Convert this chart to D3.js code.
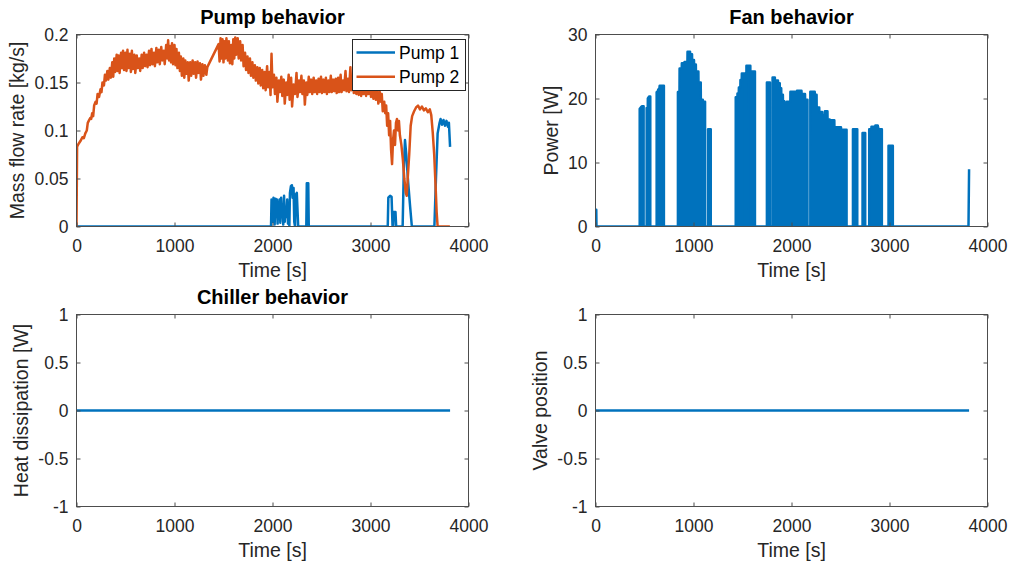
<!DOCTYPE html>
<html>
<head>
<meta charset="utf-8">
<script src="https://cdn.jsdelivr.net/npm/d3@7"></script>
<style>
  html, body { margin: 0; padding: 0; background: #ffffff; }
  svg { display: block; font-family: "Liberation Sans", Arial, Helvetica, sans-serif; }
</style>
</head>
<body>
<svg id="fig" width="1012" height="566"></svg>
<script>
// ---- tick values ----
const timeTicks = [0, 1000, 2000, 3000, 4000];
const pumpTicks = [0, 0.05, 0.1, 0.15, 0.2];
const fanTicks = [0, 10, 20, 30];
const unitTicks = [-1, -0.5, 0, 0.5, 1];

// ---- series: [time s, value] ----
const pump1Flow = [
  [0,0],[1985,0],[1990,0.028],[2000,0.027],[2005,0.005],[2010,0.03],[2018,0.028],[2022,0.002],
  [2030,0.029],[2038,0.01],[2045,0.028],[2052,0.003],[2058,0.025],[2065,0.008],[2072,0.028],
  [2080,0.004],[2088,0.03],[2095,0.01],[2102,0.022],[2110,0.002],[2118,0.032],[2125,0.005],
  [2132,0.02],[2140,0.01],[2150,0.028],[2158,0.003],[2165,0.02],[2172,0],[2178,0.035],
  [2188,0.042],[2198,0.043],[2205,0.03],[2215,0.04],[2222,0.005],[2230,0],[2236,0.033],
  [2248,0.035],[2256,0.015],[2262,0],[2345,0],[2350,0.045],[2365,0.045],[2370,0],
  [3176,0],[3182,0.03],[3200,0.032],[3215,0.031],[3225,0],[3232,0],[3236,0.015],[3255,0.015],
  [3262,0],[3328,0],[3340,0.06],[3352,0.09],[3365,0.075],[3385,0.045],[3405,0.02],[3422,0],
  [3652,0],[3668,0.05],[3685,0.097],[3705,0.108],[3715,0.112],[3730,0.106],[3745,0.111],
  [3760,0.105],[3775,0.11],[3790,0.104],[3800,0.108],[3812,0.083]
];

const pump2Flow = [
  [0,0],[6,0.083],[20,0.086],[40,0.089],[60,0.093],[75,0.092],[90,0.097],[105,0.1],[115,0.108],
  [125,0.11],[140,0.113],[150,0.112],[160,0.118],[170,0.115],[180,0.126],[195,0.13],[205,0.128],
  [215,0.138],[230,0.135],[245,0.143],[255,0.14],[265,0.15],[280,0.147],[290,0.158],[300,0.152],
  [315,0.162],[325,0.153],[340,0.165],[350,0.155],[365,0.171],[375,0.156],[385,0.175],[395,0.161],
  [410,0.179],[420,0.162],[430,0.178],[440,0.16],[455,0.181],[465,0.165],[475,0.183],[485,0.163],
  [500,0.181],[510,0.162],[520,0.184],[530,0.165],[545,0.18],[555,0.161],[565,0.183],[575,0.164],
  [590,0.179],[600,0.16],[615,0.178],[625,0.165],[640,0.175],[650,0.162],[665,0.179],[675,0.165],
  [690,0.181],[700,0.167],[715,0.179],[725,0.166],[740,0.183],[750,0.168],[765,0.185],[775,0.169],
  [790,0.181],[800,0.167],[815,0.186],[825,0.171],[840,0.184],[850,0.169],[865,0.187],[875,0.173],
  [890,0.183],[900,0.169],[915,0.189],[925,0.175],[935,0.194],[945,0.173],[955,0.188],[965,0.171],
  [975,0.191],[985,0.169],[1000,0.189],[1010,0.168],[1020,0.185],[1030,0.165],[1045,0.181],
  [1055,0.162],[1065,0.177],[1075,0.157],[1090,0.175],[1100,0.155],[1110,0.173],[1120,0.159],
  [1135,0.171],[1145,0.152],[1160,0.171],[1170,0.157],[1185,0.173],[1195,0.159],[1210,0.171],
  [1220,0.155],[1235,0.172],[1245,0.16],[1260,0.17],[1270,0.153],[1285,0.169],[1295,0.157],
  [1310,0.168],[1325,0.158],[1335,0.166],[1450,0.19],[1460,0.172],[1470,0.196],[1480,0.175],
  [1490,0.195],[1500,0.171],[1510,0.193],[1520,0.175],[1530,0.196],[1545,0.173],[1555,0.193],
  [1565,0.17],[1580,0.189],[1590,0.169],[1600,0.195],[1610,0.175],[1620,0.197],[1630,0.179],
  [1645,0.196],[1655,0.175],[1670,0.193],[1680,0.173],[1695,0.189],[1705,0.167],[1720,0.181],
  [1730,0.163],[1745,0.177],[1755,0.16],[1770,0.175],[1780,0.157],[1795,0.171],[1805,0.155],
  [1820,0.168],[1830,0.152],[1845,0.166],[1855,0.149],[1870,0.165],[1880,0.147],[1895,0.163],
  [1905,0.144],[1920,0.161],[1930,0.142],[1945,0.167],[1955,0.145],[1970,0.161],[1980,0.137],
  [1990,0.18],[2000,0.145],[2015,0.158],[2025,0.138],[2040,0.155],[2050,0.13],[2065,0.152],
  [2075,0.14],[2090,0.156],[2100,0.136],[2115,0.153],[2125,0.128],[2140,0.15],[2150,0.137],
  [2165,0.158],[2175,0.132],[2190,0.155],[2200,0.125],[2215,0.148],[2230,0.138],[2245,0.16],
  [2255,0.135],[2270,0.152],[2280,0.14],[2295,0.157],[2305,0.138],[2320,0.152],[2330,0.127],
  [2345,0.15],[2355,0.137],[2370,0.156],[2380,0.14],[2395,0.153],[2405,0.138],[2420,0.155],
  [2430,0.14],[2445,0.152],[2455,0.138],[2470,0.154],[2480,0.14],[2495,0.156],[2505,0.139],
  [2520,0.153],[2530,0.14],[2545,0.155],[2555,0.138],[2570,0.152],[2580,0.14],[2595,0.157],
  [2605,0.14],[2620,0.153],[2630,0.141],[2645,0.154],[2655,0.139],[2670,0.155],[2680,0.14],
  [2695,0.158],[2705,0.14],[2720,0.152],[2730,0.142],[2745,0.162],[2755,0.141],[2770,0.154],
  [2780,0.14],[2795,0.166],[2805,0.142],[2820,0.153],[2830,0.139],[2845,0.152],[2855,0.138],
  [2870,0.15],[2880,0.137],[2895,0.151],[2905,0.136],[2920,0.149],[2930,0.138],[2945,0.148],
  [2955,0.136],[2970,0.15],[2980,0.138],[2995,0.147],[3005,0.135],[3020,0.146],[3030,0.133],
  [3045,0.144],[3055,0.132],[3070,0.143],[3080,0.128],[3095,0.14],[3105,0.13],[3115,0.138],
  [3125,0.12],[3140,0.13],[3150,0.118],[3160,0.126],[3170,0.105],[3180,0.118],[3190,0.095],
  [3200,0.11],[3210,0.08],[3220,0.065],[3230,0.09],[3240,0.1],[3250,0.085],[3260,0.108],
  [3270,0.112],[3280,0.1],[3290,0.11],[3300,0.095],[3315,0.085],[3330,0.07],[3345,0.05],
  [3360,0.035],[3370,0.032],[3380,0.05],[3395,0.075],[3410,0.105],[3425,0.115],[3445,0.12],
  [3465,0.124],[3485,0.126],[3505,0.122],[3525,0.125],[3545,0.121],[3565,0.123],[3585,0.119],
  [3605,0.122],[3620,0.116],[3635,0.098],[3650,0.075],[3665,0.04],[3675,0.015],[3685,0],[3810,0]
];

const fanPower = [
  [0,2.6],[8,2.6],[10,0],
  [451,0],[451,18.4],[462,18.6],[475,18.8],[491,18.8],[491,0],
  [522,0],[522,18.5],[533,18.5],[534,20],[546,20.3],[559,20.3],[559,0],
  [624,0],[624,21],[638,21.2],[640,21.4],[652,21.6],[655,22],[698,22],[698,0],
  [841,0],[841,21],[857,21],[858,24.7],[880,24.7],[881,25.5],[907,25.5],[908,25.7],[938,25.7],
  [939,27.3],[965,27.3],[966,26.9],[985,26.9],[986,26],[1005,26],[1006,25.3],[1024,25.3],
  [1025,24.2],[1050,24.2],[1051,22.5],[1074,22.5],[1075,19.8],[1095,19.8],[1096,19.5],[1118,19.5],[1118,0],
  [1149,0],[1149,15.2],[1176,15.2],[1176,0],
  [1431,0],[1431,20.2],[1448,20.2],[1449,20.8],[1462,20.8],[1463,21.7],[1478,21.7],[1479,22.9],
  [1492,22.9],[1493,23.9],[1525,23.9],[1525,0],
  [1540,0],[1540,25.1],[1580,25.1],[1580,0],
  [1597,0],[1597,24.2],[1627,24.2],[1627,0],
  [1749,0],[1749,22.5],[1780,22.5],[1780,0],
  [1807,0],[1807,23.3],[1830,23.3],[1831,22.8],[1862,22.8],[1863,22.4],[1880,22.4],[1881,21.6],
  [1895,21.6],[1896,20.6],[1912,20.6],[1913,19.6],[1925,19.6],[1926,19.3],[1950,19.3],[1951,19.5],
  [1988,19.5],[1989,21.05],[2055,21.05],[2056,21.2],[2102,21.2],[2103,20.7],[2138,20.7],
  [2139,19.8],[2163,19.8],[2163,0],
  [2192,0],[2192,21.05],[2237,21.05],[2238,20.6],[2256,20.6],[2257,18.6],[2283,18.6],[2284,17.9],
  [2313,17.9],[2314,17.4],[2340,17.4],[2341,18],[2367,18],[2368,16.7],[2390,16.7],[2391,16.6],
  [2437,16.6],[2438,15.5],[2505,15.5],[2506,15.1],[2562,15.1],[2562,0],
  [2627,0],[2627,15.2],[2671,15.2],[2671,0],
  [2725,0],[2725,14.6],[2752,14.6],[2752,0],
  [2793,0],[2793,15.2],[2815,15.2],[2816,15.6],[2855,15.6],[2856,15.8],[2880,15.8],[2888,15.2],
  [2922,15.2],[2922,0],
  [2990,0],[2990,12.6],[3034,12.6],[3034,0],
  [3806,0],[3812,8.95]
];

const chillerHeat = [[0,0],[3812,0]];
const valvePosition = [[0,0],[3812,0]];

// ---- styling ----
const BLUE = "#0072BD";
const ORANGE = "#D95319";
const AXIS_COLOR = "#4d4d4d";
const TEXT_COLOR = "#262626";
const LINE_W = 2.5;

const svg = d3.select("#fig");
const defs = svg.append("defs");
let clipCount = 0;

function drawPanel(opt) {
  const W = opt.width, H = opt.height;
  const g = svg.append("g").attr("transform", `translate(${opt.left},${opt.top})`);
  const x = d3.scaleLinear().domain([0, 4000]).range([0, W]);
  const y = d3.scaleLinear().domain(opt.yDomain).range([H, 0]);

  const clipId = "clip" + (clipCount++);
  defs.append("clipPath").attr("id", clipId)
    .append("rect").attr("x", 0).attr("y", 0).attr("width", W).attr("height", H);

  const plot = g.append("g").attr("clip-path", `url(#${clipId})`);

  (opt.areas || []).forEach(s => {
    plot.append("path")
      .datum(s.data)
      .attr("fill", s.color)
      .attr("d", d3.area().x(d => x(d[0])).y0(y(0)).y1(d => y(d[1])));
  });

  opt.series.forEach(s => {
    plot.append("path")
      .datum(s.data)
      .attr("fill", "none")
      .attr("stroke", s.color)
      .attr("stroke-width", LINE_W)
      .attr("stroke-linejoin", "round")
      .attr("d", d3.line().x(d => x(d[0])).y(d => y(d[1])));
  });

  const fmt = d => String(d);
  const styleAxis = (a, showText) => {
    a.select(".domain").remove();
    a.selectAll(".tick line").attr("stroke", AXIS_COLOR).attr("stroke-width", 1);
    a.selectAll(".tick text")
      .attr("fill", TEXT_COLOR)
      .attr("font-size", 17.5)
      .attr("font-family", "Liberation Sans, Arial, sans-serif");
    if (!showText) a.selectAll(".tick text").remove();
  };

  const xb = g.append("g").attr("transform", `translate(0,${H})`)
    .call(d3.axisBottom(x).tickValues(timeTicks).tickFormat(fmt).tickSizeInner(-4).tickSizeOuter(0).tickPadding(12.6));
  styleAxis(xb, true);
  const xt = g.append("g")
    .call(d3.axisTop(x).tickValues(timeTicks).tickFormat(fmt).tickSizeInner(-4).tickSizeOuter(0));
  styleAxis(xt, false);
  const yl = g.append("g")
    .call(d3.axisLeft(y).tickValues(opt.yTicks).tickFormat(fmt).tickSizeInner(-4).tickSizeOuter(0).tickPadding(8));
  styleAxis(yl, true);
  const yr = g.append("g").attr("transform", `translate(${W},0)`)
    .call(d3.axisRight(y).tickValues(opt.yTicks).tickFormat(fmt).tickSizeInner(-4).tickSizeOuter(0));
  styleAxis(yr, false);

  g.append("rect")
    .attr("x", 0).attr("y", 0).attr("width", W).attr("height", H)
    .attr("fill", "none").attr("stroke", AXIS_COLOR).attr("stroke-width", 1)
    .attr("shape-rendering", "crispEdges");

  if (opt.title) {
    g.append("text")
      .attr("x", W / 2).attr("y", -10.5)
      .attr("text-anchor", "middle")
      .attr("font-size", 20).attr("font-weight", "bold")
      .attr("fill", "#000")
      .text(opt.title);
  }

  g.append("text")
    .attr("x", W / 2).attr("y", H + 50.5)
    .attr("text-anchor", "middle")
    .attr("font-size", 19.5).attr("fill", TEXT_COLOR)
    .text("Time [s]");

  g.append("text")
    .attr("transform", `translate(${-opt.ylabelOffset},${H / 2}) rotate(-90)`)
    .attr("text-anchor", "middle")
    .attr("font-size", 19.5).attr("fill", TEXT_COLOR)
    .text(opt.ylabel);

  return { g, x, y, W, H };
}

const L1 = 76.5, L2 = 595.5, T1 = 34.5, T2 = 314.5, PW = 392, PH = 192;

const pumpPanel = drawPanel({
  left: L1, top: T1, width: PW, height: PH,
  yDomain: [0, 0.2], yTicks: pumpTicks,
  title: "Pump behavior", ylabel: "Mass flow rate [kg/s]", ylabelOffset: 52.5,
  series: [
    { data: pump1Flow, color: BLUE },
    { data: pump2Flow, color: ORANGE }
  ]
});

drawPanel({
  left: L2, top: T1, width: PW, height: PH,
  yDomain: [0, 30], yTicks: fanTicks,
  title: "Fan behavior", ylabel: "Power [W]", ylabelOffset: 37.5,
  areas: [{ data: fanPower, color: BLUE }],
  series: [{ data: fanPower, color: BLUE }]
});

drawPanel({
  left: L1, top: T2, width: PW, height: PH,
  yDomain: [-1, 1], yTicks: unitTicks,
  title: "Chiller behavior", ylabel: "Heat dissipation [W]", ylabelOffset: 48.5,
  series: [{ data: chillerHeat, color: BLUE }]
});

drawPanel({
  left: L2, top: T2, width: PW, height: PH,
  yDomain: [-1, 1], yTicks: unitTicks,
  title: null, ylabel: "Valve position", ylabelOffset: 48.5,
  series: [{ data: valvePosition, color: BLUE }]
});

// ---- legend for the pump panel ----
const legendEntries = ["Pump 1", "Pump 2"];
const legendColors = [BLUE, ORANGE];
const lg = pumpPanel.g.append("g").attr("transform", `translate(${352.5 - L1},${39.5 - T1})`);
lg.append("rect")
  .attr("width", 113).attr("height", 51)
  .attr("fill", "#fff").attr("stroke", TEXT_COLOR).attr("stroke-width", 1)
  .attr("shape-rendering", "crispEdges");
legendEntries.forEach((name, i) => {
  const cy = 13 + i * 24.3;
  lg.append("line")
    .attr("x1", 4).attr("x2", 42.5).attr("y1", cy).attr("y2", cy)
    .attr("stroke", legendColors[i]).attr("stroke-width", LINE_W);
  lg.append("text")
    .attr("x", 46.5).attr("y", cy + 6.5)
    .attr("font-size", 17.5).attr("fill", "#000")
    .text(name);
});
</script>
</body>
</html>
